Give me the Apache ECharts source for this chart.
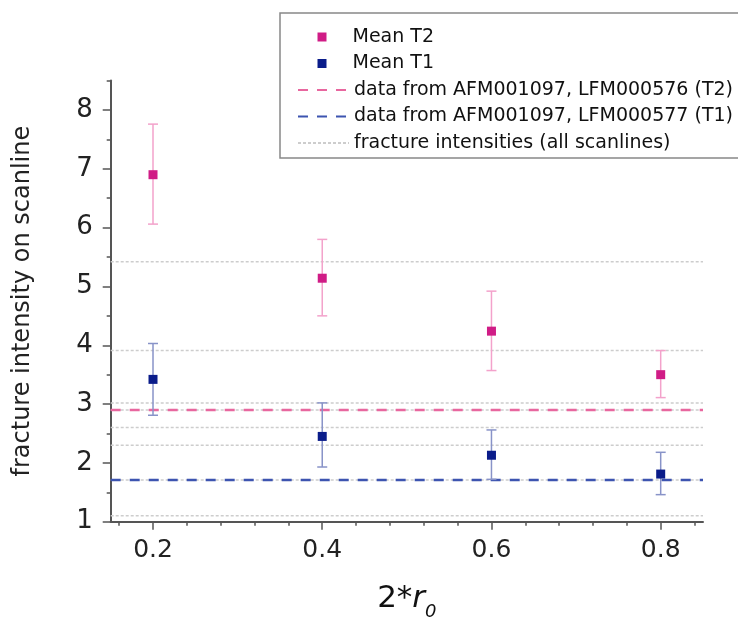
<!DOCTYPE html>
<html>
<head>
<meta charset="utf-8">
<script src="https://cdn.jsdelivr.net/npm/echarts@6/dist/echarts.min.js"></script>
<style>
html, body { margin: 0; padding: 0; background: #fff; }
#chart { width: 738px; height: 617px; }
</style>
</head>
<body>
<div id="chart"></div>
<script>
// scanline length 2*r0
var xVals = [0.2, 0.4, 0.6, 0.8];

// Mean T2 with error range
var t2Mean = [6.90, 5.14, 4.24, 3.50];
var t2Low  = [6.06, 4.50, 3.57, 3.11];
var t2High = [7.76, 5.80, 4.92, 3.91];

// Mean T1 with error range
var t1Mean = [3.42, 2.45, 2.13, 1.81];
var t1Low  = [2.81, 1.93, 1.72, 1.46];
var t1High = [4.03, 3.02, 2.56, 2.18];

// reference levels
var afmT2 = 2.90;
var afmT1 = 1.71;
var scanlines = [5.42, 3.91, 3.02, 2.90, 2.60, 2.30, 1.71, 1.10];

// axes
var xRange = [0.15, 0.85];
var yRange = [1, 8.5];
var xMajor = [0.2, 0.4, 0.6, 0.8];
var xMinor = [0.16, 0.24, 0.28, 0.32, 0.36, 0.44, 0.48, 0.52, 0.56, 0.64, 0.68, 0.72, 0.76, 0.84];
var yMajor = [1, 2, 3, 4, 5, 6, 7, 8];
var yMinor = [1.5, 2.5, 3.5, 4.5, 5.5, 6.5, 7.5, 8.5];

var nameT2 = 'Mean T2';
var nameT1 = 'Mean T1';
var nameAfm2 = 'data from AFM001097, LFM000576 (T2)';
var nameAfm1 = 'data from AFM001097, LFM000577 (T1)';
var nameScan = 'fracture intensities (all scanlines)';

var FONT = 'DejaVu Sans';
var AXIS = '#555';

function hline(name, y, color, width, dash, z) {
    return {
        type: 'line', name: name, z: z, silent: true,
        symbol: 'none', animation: false,
        lineStyle: {color: color, width: width, type: dash},
        itemStyle: {color: color},
        data: [[xRange[0], y], [xRange[1], y]]
    };
}

function errorBars(low, high, color) {
    return {
        type: 'custom', z: 3, silent: true, animation: false,
        renderItem: function (params, api) {
            var x = api.value(0);
            var lo = api.coord([x, api.value(1)]);
            var hi = api.coord([x, api.value(2)]);
            var hw = 5;
            var st = {stroke: color, lineWidth: 1.5};
            return {type: 'group', children: [
                {type: 'line', shape: {x1: lo[0], y1: lo[1], x2: hi[0], y2: hi[1]}, style: st},
                {type: 'line', shape: {x1: lo[0] - hw, y1: lo[1], x2: lo[0] + hw, y2: lo[1]}, style: st},
                {type: 'line', shape: {x1: hi[0] - hw, y1: hi[1], x2: hi[0] + hw, y2: hi[1]}, style: st}
            ]};
        },
        encode: {x: 0, y: [1, 2]},
        data: xVals.map(function (x, i) { return [x, low[i], high[i]]; })
    };
}

var series = [];
scanlines.forEach(function (v) {
    series.push(hline(nameScan, v, '#cdcdcd', 1.5, [3, 2], 1));
});
series.push(hline(nameAfm2, afmT2, '#e8679f', 2.5, [10, 9], 2));
series.push(hline(nameAfm1, afmT1, '#3d54b0', 2.5, [10, 9], 2));
series.push(errorBars(t2Low, t2High, '#f3a2cb'));
series.push(errorBars(t1Low, t1High, '#8893c8'));
series.push({
    type: 'scatter', name: nameT2, z: 4, symbol: 'rect', symbolSize: 9,
    itemStyle: {color: '#d01c86', opacity: 1}, animation: false,
    data: xVals.map(function (x, i) { return [x, t2Mean[i]]; })
});
series.push({
    type: 'scatter', name: nameT1, z: 4, symbol: 'rect', symbolSize: 9,
    itemStyle: {color: '#0a1c8a', opacity: 1}, animation: false,
    data: xVals.map(function (x, i) { return [x, t1Mean[i]]; })
});

var chart = echarts.init(document.getElementById('chart'));
chart.setOption({
    backgroundColor: '#fff',
    animation: false,
    grid: {left: 110.7, right: 35, top: 80.6, bottom: 95.3, containLabel: false, outerBoundsMode: 'none'},
    legend: [{
        data: [nameT2, nameT1],
        orient: 'vertical', left: 317.5, top: 27, padding: 0,
        itemWidth: 9, itemHeight: 9, itemGap: 6.5, icon: 'rect',
        selectedMode: false,
        itemStyle: {opacity: 1},
        textStyle: {fontFamily: FONT, fontSize: 19, color: '#111', lineHeight: 20, padding: [0, 0, 0, 21]}
    }, {
        data: [nameAfm2, nameAfm1, nameScan],
        orient: 'vertical', left: 297, top: 80, padding: 0,
        itemWidth: 51, itemHeight: 10, itemGap: 6.5,
        selectedMode: false,
        itemStyle: {color: 'rgba(0,0,0,0)', borderWidth: 0, opacity: 0},
        textStyle: {fontFamily: FONT, fontSize: 19, color: '#111', lineHeight: 20}
    }],
    graphic: [{
        type: 'rect', z: 10, silent: true,
        shape: {x: 280, y: 13, width: 470, height: 145},
        style: {fill: 'none', stroke: '#888', lineWidth: 1.5}
    }],
    xAxis: [{
        type: 'value', min: xRange[0], max: xRange[1],
        name: '{n|2*}{i|r}{s|0}', nameLocation: 'middle', nameGap: 62,
        nameTextStyle: {
            fontFamily: FONT, fontSize: 31, color: '#111',
            rich: {
                n: {fontFamily: FONT, fontSize: 31, lineHeight: 30, verticalAlign: 'top', color: '#111'},
                i: {fontFamily: FONT, fontSize: 31, lineHeight: 30, verticalAlign: 'top', fontStyle: 'italic', color: '#111'},
                s: {fontFamily: FONT, fontSize: 18, lineHeight: 18, verticalAlign: 'top', fontStyle: 'italic', padding: [20, 0, 0, 0], color: '#111'}
            }
        },
        axisLine: {show: true, lineStyle: {color: AXIS, width: 2}},
        axisTick: {show: true, customValues: xMajor, length: 8, lineStyle: {color: AXIS, width: 1.5}},
        axisLabel: {customValues: xMajor, margin: 16, fontFamily: FONT, fontSize: 25, color: '#222',
            formatter: function (v) { return v.toFixed(1); }},
        splitLine: {show: false}
    }, {
        type: 'value', min: xRange[0], max: xRange[1], position: 'bottom', offset: 0,
        axisLine: {show: false},
        axisTick: {show: true, customValues: xMinor, length: 4, lineStyle: {color: AXIS, width: 1.5}},
        axisLabel: {show: false},
        splitLine: {show: false}
    }],
    yAxis: [{
        type: 'value', min: yRange[0], max: yRange[1],
        name: 'fracture intensity on scanline', nameLocation: 'middle', nameGap: 76,
        nameTextStyle: {fontFamily: FONT, fontSize: 24, color: '#222'},
        axisLine: {show: true, lineStyle: {color: AXIS, width: 2}},
        axisTick: {show: true, customValues: yMajor, length: 8, lineStyle: {color: AXIS, width: 1.5}},
        axisLabel: {customValues: yMajor, margin: 18, fontFamily: FONT, fontSize: 26, color: '#222'},
        splitLine: {show: false}
    }, {
        type: 'value', min: yRange[0], max: yRange[1], position: 'left', offset: 0,
        axisLine: {show: false},
        axisTick: {show: true, customValues: yMinor, length: 4, lineStyle: {color: AXIS, width: 1.5}},
        axisLabel: {show: false},
        splitLine: {show: false}
    }],
    series: series
});
</script>
</body>
</html>
